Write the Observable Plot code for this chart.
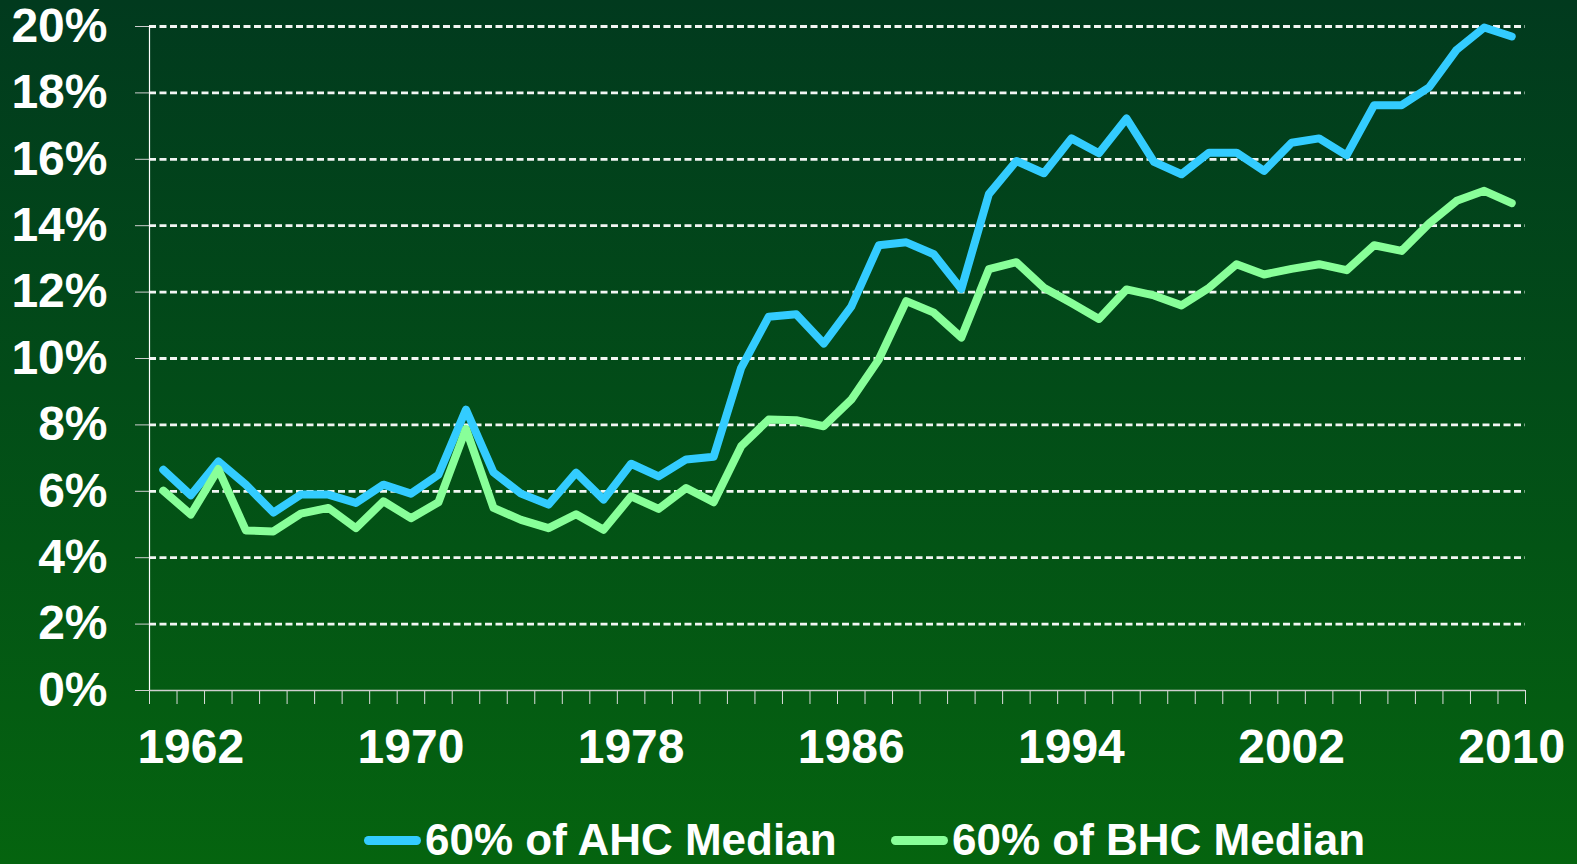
<!DOCTYPE html>
<html>
<head>
<meta charset="utf-8">
<script src="https://cdn.jsdelivr.net/npm/d3@7"></script>
<script src="https://cdn.jsdelivr.net/npm/@observablehq/plot@0.6"></script>
<style>
html, body { margin: 0; padding: 0; }
body {
  width: 1577px; height: 864px; overflow: hidden;
  background: linear-gradient(to bottom, #013a1e 0%, #024c18 45%, #05640f 100%);
  font-family: "Liberation Sans", Arial, sans-serif;
}
#chart svg { display: block; }
#legend { position: relative; width: 1577px; height: 64px; }
.item { position: absolute; top: 0; height: 64px; display: flex; align-items: center; }
.sw { width: 57px; height: 9px; border-radius: 5px; margin-right: 4px; }
.lbl { color: white; font-weight: bold; font-size: 44px; line-height: 1; white-space: nowrap; }
</style>
</head>
<body>
<div id="chart"></div>
<div id="legend"></div>
<script>
const years = [1961,1962,1963,1964,1965,1966,1967,1968,1969,1970,
  1971,1972,1973,1974,1975,1976,1977,1978,1979,1980,
  1981,1982,1983,1984,1985,1986,1987,1988,1989,1990,
  1991,1992,1993,1994,1995,1996,1997,1998,1999,2000,
  2001,2002,2003,2004,2005,2006,2007,2008,2009,2010];
const ahc = [6.65,5.88,6.90,6.20,5.36,5.90,5.90,5.65,6.20,5.93,
  6.50,8.46,6.57,5.93,5.60,6.56,5.75,6.83,6.45,6.96,
  7.04,9.72,11.26,11.33,10.45,11.56,13.41,13.50,13.14,12.09,
  14.95,15.95,15.58,16.63,16.18,17.23,15.92,15.55,16.20,16.20,
  15.65,16.50,16.63,16.12,17.63,17.63,18.17,19.30,19.97,19.70];
const bhc = [6.02,5.30,6.67,4.82,4.79,5.33,5.50,4.89,5.70,5.19,
  5.67,7.88,5.50,5.14,4.89,5.31,4.84,5.85,5.47,6.10,
  5.67,7.36,8.16,8.14,7.96,8.76,9.97,11.73,11.38,10.63,
  12.69,12.90,12.13,11.67,11.19,12.08,11.90,11.60,12.13,12.84,
  12.53,12.70,12.84,12.66,13.41,13.24,14.07,14.75,15.05,14.68];
const seriesNames = ["60% of AHC Median", "60% of BHC Median"];
const seriesColors = ["#33ccff", "#88ff99"];
const yTicks = [0,2,4,6,8,10,12,14,16,18,20];
const xLabels = [1962,1970,1978,1986,1994,2002,2010];

const data = years.flatMap((yr, i) => [
  {year: yr, value: ahc[i], series: seriesNames[0]},
  {year: yr, value: bhc[i], series: seriesNames[1]}
]);
const boundaries = years.map(y => y - 0.5).concat([years[years.length - 1] + 0.5]);

const H = 800;
const plot = Plot.plot({
  width: 1577, height: H,
  marginLeft: 149, marginRight: 52, marginTop: 26, marginBottom: H - 690,
  style: {background: "transparent", color: "white", fontFamily: "'Liberation Sans', Arial, sans-serif", overflow: "visible"},
  x: {type: "linear", domain: [boundaries[0], boundaries[boundaries.length - 1]]},
  y: {domain: [0, 20]},
  color: {domain: seriesNames, range: seriesColors},
  marks: [
    Plot.gridY(yTicks.filter(d => d > 0), {stroke: "white", strokeOpacity: 0.95, strokeWidth: 2.8, strokeDasharray: "7,3.5"}),
    Plot.axisY(yTicks, {tickSize: 14, tickPadding: 28, stroke: "#cfcfcf", tickFormat: d => d + "%", fontSize: 48, fontWeight: "bold", fill: "white", label: null}),
    Plot.axisX(boundaries, {tickSize: 14, stroke: "#dddddd", tickFormat: () => "", label: null}),
    Plot.axisX(xLabels, {tickSize: 0, tickPadding: 38, tickFormat: d => String(d), fontSize: 48, fontWeight: "bold", fill: "white", label: null}),
    Plot.ruleY([0], {stroke: "#cfcfcf", strokeWidth: 1.5}),
    Plot.ruleX([boundaries[0]], {stroke: "white", strokeWidth: 1.2}),
    Plot.line(data, {x: "year", y: "value", stroke: "series", strokeWidth: 8, strokeLinejoin: "round", strokeLinecap: "round"})
  ]
});
document.getElementById("chart").appendChild(plot);

const legend = document.getElementById("legend");
const lefts = [364, 891];
seriesNames.forEach((name, i) => {
  const it = document.createElement("div");
  it.className = "item";
  it.style.left = lefts[i] + "px";
  it.style.top = "8px";
  const sw = document.createElement("div");
  sw.className = "sw";
  sw.style.background = seriesColors[i];
  const lb = document.createElement("div");
  lb.className = "lbl";
  lb.textContent = name;
  it.appendChild(sw);
  it.appendChild(lb);
  legend.appendChild(it);
});
</script>
</body>
</html>
